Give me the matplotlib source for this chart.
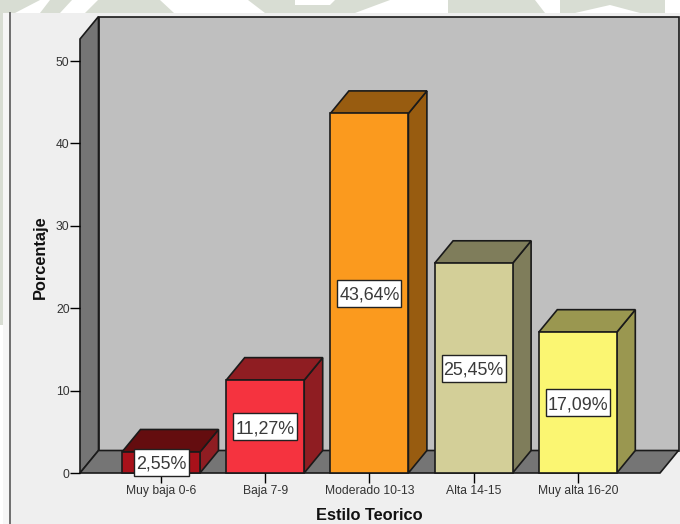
#!/usr/bin/python
# -*- coding: utf-8 -*-
import numpy as np
import matplotlib
matplotlib.use("Agg")
import matplotlib.pyplot as plt
from matplotlib.patches import Polygon, Rectangle

plt.rcParams['font.family'] = ['Liberation Sans', 'DejaVu Sans']

# Data
categorias = ["Muy baja 0-6", "Baja 7-9", "Moderado 10-13", "Alta 14-15", "Muy alta 16-20"]
porcentajes = [2.55, 11.27, 43.64, 25.45, 17.09]
etiquetas = ["2,55%", "11,27%", "43,64%", "25,45%", "17,09%"]
yticks = [0, 10, 20, 30, 40, 50]

colores = ["#A8111A", "#F5333F", "#FB9A1E", "#D3CF98", "#FBF672"]
lados = ["#8F1D22", "#8F1D22", "#985C10", "#7F7D5B", "#9A9750"]
techos = ["#640D0F", "#8F1D22", "#985C10", "#7F7D5B", "#9A9750"]

W, H = 680, 524
fig = plt.figure(figsize=(W/100, H/100), dpi=100, facecolor="white")

# fondo del panel y restos de la marca de agua
bg = fig.add_axes([0, 0, 1, 1])
bg.set_xlim(0, W); bg.set_ylim(H, 0); bg.axis("off")
for pts in ([(0, 0), (40, 0), (15, 13), (0, 13)],
            [(50, 0), (72, 0), (60, 13), (40, 13)],
            [(98, 0), (160, 0), (174, 13), (85, 13)],
            [(248, 0), (295, 0), (295, 5), (330, 5), (335, 0), (390, 0), (355, 13), (265, 13)],
            [(448, 0), (535, 0), (545, 13), (448, 13)],
            [(560, 0), (665, 0), (665, 13), (640, 13), (610, 5), (575, 13), (560, 13)]):
    bg.add_patch(Polygon(pts, fc="#D8DDD3", ec="none"))
bg.add_patch(Rectangle((0, 13), 3, 312, fc="#D8DDD3", ec="none"))
bg.add_patch(Rectangle((3, 13), W, H, fc="#F6F6F6", ec="none"))
bg.add_patch(Rectangle((10, 13), W, H, fc="#EFEFEF", ec="none"))
bg.plot([10, 10], [13, H], color="#6E6E6E", lw=1.4)

# plano frontal: x 80-660 px, cero en y=473, 8.24 px por unidad
x0, x1 = 80, 660
y_cero, y_techo = 473, 39
pos = [x0/W, 1 - y_cero/H, (x1-x0)/W, (y_cero-y_techo)/H]
ax = fig.add_axes(pos, facecolor="none")
paso = 104.2
esc = 8.24
xmin = -(161 - x0)/paso
xmax = xmin + (x1-x0)/paso
ymax = (y_cero-y_techo)/esc
ax.set_xlim(xmin, xmax)
ax.set_ylim(0, ymax)

dx = 18.5/paso   # profundidad
dy = 22.5/esc
ancho = 78/paso
borde = dict(ec="#1A1A1A", lw=1.2, clip_on=False)

# paredes
ax.add_patch(Polygon([(xmin+dx, dy), (xmax+dx, dy), (xmax+dx, ymax+dy), (xmin+dx, ymax+dy)], fc="#BFBFBF", **borde))
ax.add_patch(Polygon([(xmin, 0), (xmin+dx, dy), (xmin+dx, ymax+dy), (xmin, ymax)], fc="#757575", **borde))
ax.add_patch(Polygon([(xmin, 0), (xmax, 0), (xmax+dx, dy), (xmin+dx, dy)], fc="#757575", **borde))

# barras
for i, v in enumerate(porcentajes):
    a, b = i - ancho/2, i + ancho/2
    ax.add_patch(Polygon([(b, 0), (b+dx, dy), (b+dx, v+dy), (b, v)], fc=lados[i], **borde))
    ax.add_patch(Polygon([(a, v), (b, v), (b+dx, v+dy), (a+dx, v+dy)], fc=techos[i], **borde))
    ax.add_patch(Rectangle((a, 0), ancho, v, fc=colores[i], **borde))

    # caja de la etiqueta, 27 px de alto
    yc = max(v/2, 1.2)
    cw = (9*len(etiquetas[i]) + 10)/paso
    ch = 27/esc
    ax.add_patch(Rectangle((i-cw/2, yc-ch/2), cw, ch, fc="white", ec="#222222", lw=1, zorder=4, clip_on=False))
    ax.text(i, yc, etiquetas[i], ha="center", va="center_baseline", fontsize=12.9, color="#3A3A3A", zorder=5)

for s in ax.spines.values():
    s.set_visible(False)
ax.set_xticks(range(len(categorias)))
ax.set_xticklabels(categorias, fontsize=8.7, color="#333333")
ax.set_yticks(yticks)
ax.tick_params(axis="y", length=7, width=1, labelsize=8.7, labelcolor="#333333", pad=0.5)
ax.tick_params(axis="x", length=7, width=1, pad=1.5)

bg.text(369.5, 515, "Estilo Teorico", ha="center", va="center", fontsize=11.8, fontweight="bold", color="#111111")
bg.text(40, 257, "Porcentaje", ha="center", va="center", rotation=90, fontsize=11.8, fontweight="bold", color="#111111")

fig.savefig("out.png", dpi=100)
